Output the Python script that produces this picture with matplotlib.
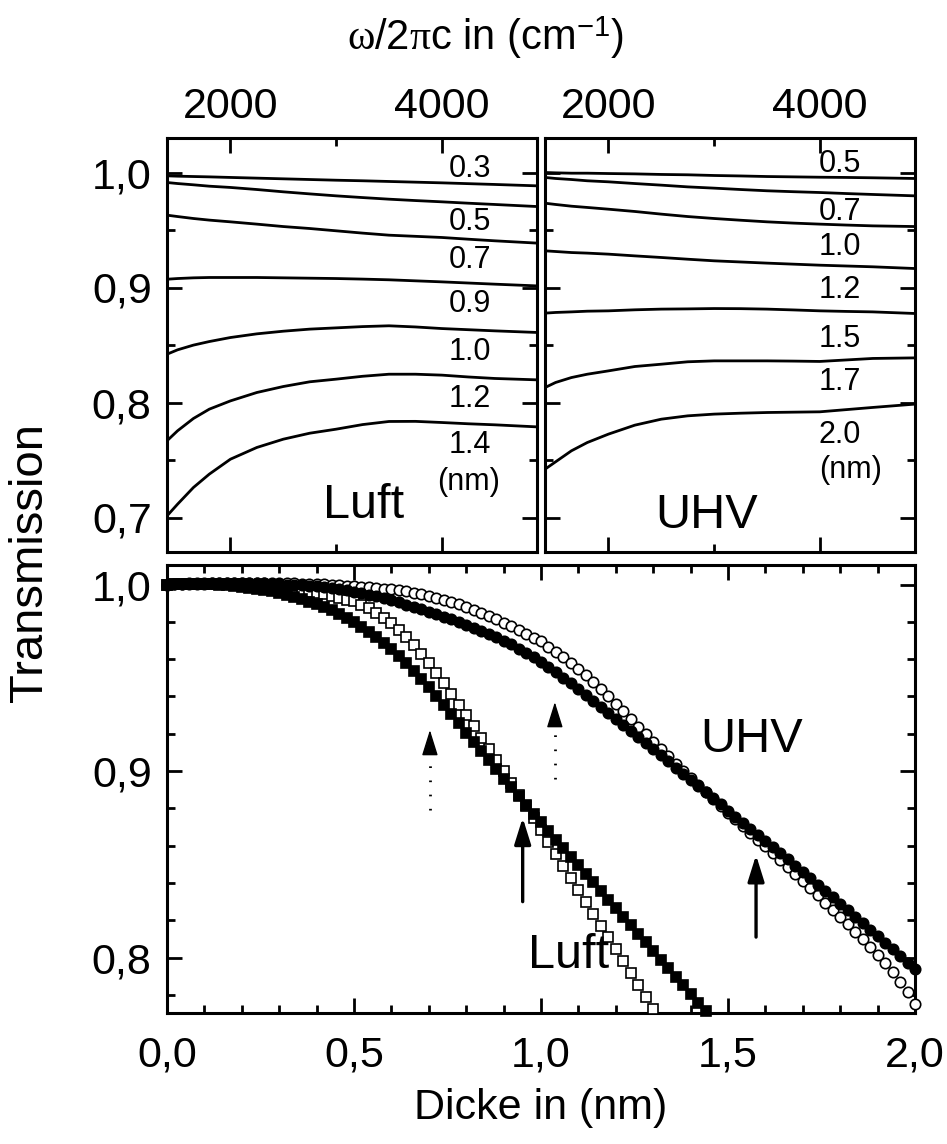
import numpy as np
import matplotlib
matplotlib.use('Agg')
import matplotlib.pyplot as plt
from matplotlib.ticker import FuncFormatter

plt.rcParams['font.family'] = ['Liberation Sans', 'DejaVu Sans']
plt.rcParams['mathtext.fontset'] = 'custom'
plt.rcParams['mathtext.rm'] = 'Liberation Sans'
plt.rcParams['mathtext.it'] = 'Liberation Serif'

# ---- top panels: transmission spectra, wavenumber in cm^-1 ----
wn = [1400, 1500, 1650, 1800, 2000, 2250, 2500, 2750, 3000, 3250, 3500, 3750, 4000, 4250, 4500, 4900]

luft_labels = ['0.3', '0.5', '0.7', '0.9', '1.0', '1.2', '1.4']
luft_spectra = [
    [.9971, .9968, .9965, .9962, .9957, .9951, .9945, .9939, .9933, .9928, .9922, .9916, .9910, .9903, .9896, .9884],
    [.9913, .9904, .9893, .9881, .9870, .9852, .9832, .9814, .9797, .9782, .9768, .9756, .9745, .9733, .9722, .9704],
    [.9629, .9617, .9600, .9586, .9571, .9551, .9530, .9513, .9493, .9473, .9455, .9445, .9435, .9420, .9406, .9386],
    [.9072, .9078, .9084, .9087, .9087, .9087, .9084, .9081, .9078, .9073, .9067, .9058, .9049, .9039, .9029, .9014],
    [.8420, .8458, .8499, .8530, .8565, .8597, .8620, .8638, .8649, .8660, .8667, .8657, .8643, .8633, .8623, .8609],
    [.7667, .7754, .7861, .7942, .8014, .8087, .8139, .8180, .8203, .8228, .8246, .8246, .8238, .8222, .8209, .8197],
    [.7014, .7116, .7261, .7377, .7507, .7609, .7681, .7733, .7768, .7808, .7835, .7836, .7826, .7815, .7806, .7788],
]

uhv_labels = ['0.5', '0.7', '1.0', '1.2', '1.5', '1.7', '2.0']
uhv_spectra = [
    [1.000, .9997, .9994, .9994, .9991, .9988, .9983, .9980, .9974, .9970, .9965, .9962, .9959, .9957, .9954, .9948],
    [.9957, .9948, .9939, .9928, .9919, .9904, .9890, .9875, .9864, .9852, .9841, .9833, .9826, .9817, .9809, .9797],
    [.9733, .9722, .9707, .9696, .9681, .9661, .9638, .9617, .9600, .9585, .9571, .9560, .9551, .9543, .9536, .9530],
    [.9319, .9313, .9304, .9299, .9290, .9275, .9261, .9246, .9232, .9222, .9212, .9203, .9194, .9187, .9180, .9165],
    [.8777, .8783, .8788, .8794, .8797, .8806, .8812, .8814, .8817, .8816, .8812, .8805, .8797, .8792, .8788, .8774],
    [.8130, .8174, .8217, .8246, .8275, .8313, .8333, .8354, .8362, .8362, .8362, .8360, .8357, .8370, .8383, .8388],
    [.7420, .7484, .7580, .7652, .7725, .7803, .7855, .7884, .7899, .7907, .7913, .7916, .7919, .7938, .7957, .7986],
]

# ---- bottom panel: transmission vs. film thickness (nm) ----
dicke = [0.00, 0.02, 0.04, 0.06, 0.08, 0.10, 0.12, 0.14, 0.16, 0.18,
         0.20, 0.22, 0.24, 0.26, 0.28, 0.30, 0.32, 0.34, 0.36, 0.38,
         0.40, 0.42, 0.44, 0.46, 0.48, 0.50, 0.52, 0.54, 0.56, 0.58,
         0.60, 0.62, 0.64, 0.66, 0.68, 0.70, 0.72, 0.74, 0.76, 0.78,
         0.80, 0.82, 0.84, 0.86, 0.88, 0.90, 0.92, 0.94, 0.96, 0.98,
         1.00, 1.02, 1.04, 1.06, 1.08, 1.10, 1.12, 1.14, 1.16, 1.18,
         1.20, 1.22, 1.24, 1.26, 1.28, 1.30, 1.32, 1.34, 1.36, 1.38,
         1.40, 1.42, 1.44, 1.46, 1.48, 1.50, 1.52, 1.54, 1.56, 1.58,
         1.60, 1.62, 1.64, 1.66, 1.68, 1.70, 1.72, 1.74, 1.76, 1.78,
         1.80, 1.82, 1.84, 1.86, 1.88, 1.90, 1.92, 1.94, 1.96, 1.98, 2.00]

uhv_filled = [1.0000, 1.0002, 1.0004, 1.0006, 1.0008, 1.0009, 1.0010, 1.0011, 1.0011, 1.0011,
              1.0010, 1.0009, 1.0008, 1.0006, 1.0004, 1.0002, 1.0000, .9998, .9996, .9993,
              .9990, .9985, .9980, .9975, .9969, .9962, .9954, .9946, .9937, .9926,
              .9915, .9904, .9892, .9880, .9868, .9855, .9841, .9827, .9813, .9799,
              .9785, .9768, .9751, .9734, .9717, .9700, .9679, .9657, .9634, .9610,
              .9585, .9557, .9529, .9500, .9470, .9440, .9408, .9376, .9344, .9312,
              .9280, .9247, .9215, .9182, .9150, .9117, .9085, .9052, .9019, .8986,
              .8953, .8920, .8887, .8854, .8821, .8788, .8756, .8724, .8692, .8659,
              .8626, .8593, .8560, .8527, .8493, .8459, .8425, .8391, .8357, .8323,
              .8289, .8254, .8220, .8185, .8150, .8115, .8080, .8045, .8009, .7973, .7937]

uhv_open = [1.0000, 1.0001, 1.0002, 1.0003, 1.0004, 1.0005, 1.0006, 1.0007, 1.0007, 1.0008,
            1.0008, 1.0008, 1.0008, 1.0008, 1.0008, 1.0007, 1.0007, 1.0006, 1.0005, 1.0004,
            1.0003, 1.0001, .9999, .9997, .9995, .9992, .9989, .9986, .9983, .9979,
            .9975, .9970, .9964, .9957, .9949, .9940, .9930, .9919, .9907, .9894,
            .9880, .9865, .9849, .9832, .9814, .9795, .9776, .9756, .9735, .9715,
            .9695, .9668, .9640, .9611, .9581, .9550, .9514, .9477, .9439, .9400,
            .9360, .9320, .9280, .9239, .9198, .9157, .9118, .9079, .9040, .9002,
            .8963, .8926, .8889, .8852, .8815, .8778, .8742, .8705, .8669, .8632,
            .8596, .8559, .8522, .8484, .8447, .8409, .8371, .8333, .8295, .8257,
            .8219, .8179, .8139, .8098, .8057, .8015, .7970, .7922, .7871, .7816, .7750]

luft_filled = [1.0000, 1.0001, 1.0002, 1.0003, 1.0004, 1.0004, 1.0003, 1.0000, .9997, .9993,
               .9988, .9983, .9977, .9970, .9963, .9955, .9945, .9934, .9922, .9909,
               .9895, .9879, .9862, .9843, .9822, .9800, .9775, .9748, .9719, .9688,
               .9655, .9618, .9579, .9538, .9495, .9450, .9403, .9355, .9306, .9256,
               .9205, .9156, .9107, .9058, .9009, .8960, .8913, .8866, .8819, .8772,
               .8725, .8679, .8633, .8587, .8541, .8495, .8449, .8403, .8357, .8311,
               .8265, .8219, .8173, .8127, .8081, .8035, .7989, .7943, .7897, .7851,
               .7805, .7759, .7713]

luft_open = [1.0000, 1.0001, 1.0002, 1.0003, 1.0004, 1.0005, 1.0005, 1.0005, 1.0004, 1.0003,
             1.0001, .9999, .9996, .9993, .9989, .9985, .9980, .9975, .9969, .9962,
             .9955, .9947, .9938, .9929, .9920, .9910, .9893, .9873, .9850, .9823,
             .9792, .9757, .9718, .9675, .9628, .9578, .9525, .9470, .9414, .9357,
             .9299, .9240, .9180, .9120, .9059, .8998, .8936, .8874, .8811, .8748,
             .8684, .8620, .8556, .8492, .8428, .8364, .8300, .8236, .8172, .8108,
             .8044, .7980, .7916, .7852, .7788, .7724]


def comma(v, pos):
    return f'{v:.1f}'.replace('.', ',')


fig = plt.figure(figsize=(9.47, 11.44), dpi=100)
W, H = 947, 1144
ax_l = fig.add_axes([167 / W, 1 - 552 / H, 370 / W, 414 / H])
ax_r = fig.add_axes([545 / W, 1 - 552 / H, 370 / W, 414 / H])
ax_b = fig.add_axes([167 / W, 1 - 1013 / H, 748 / W, 448 / H])

for ax in (ax_l, ax_r, ax_b):
    for s in ax.spines.values():
        s.set_linewidth(2.2)
    ax.tick_params(which='both', direction='in', top=True, right=True, width=2, labelsize=31)
    ax.tick_params(which='major', length=11)
    ax.tick_params(which='minor', length=6)
    ax.yaxis.set_major_formatter(FuncFormatter(comma))
    ax.tick_params(axis='y', pad=11)

for ax, spectra in ((ax_l, luft_spectra), (ax_r, uhv_spectra)):
    for y in spectra:
        ax.plot(wn, y, color='k', lw=2)
    ax.set_xlim(1400, 4900)
    ax.set_ylim(0.67, 1.03)
    ax.set_xticks([2000, 4000])
    ax.set_xticks([3000], minor=True)
    ax.set_yticks([0.7, 0.8, 0.9, 1.0])
    ax.set_yticks([0.75, 0.85, 0.95], minor=True)
    ax.tick_params(axis='x', labeltop=True, labelbottom=False, pad=8)
ax_r.tick_params(axis='y', labelleft=False)

# curve labels
lab_l = [0.9066, 0.7778, 0.6852, 0.5805, 0.4638, 0.3510, 0.2384]
for t, yy in zip(luft_labels, lab_l):
    ax_l.text(0.819, yy, t, transform=ax_l.transAxes, fontsize=22, ha='center', va='baseline')
ax_l.text(0.816, 0.150, '(nm)', transform=ax_l.transAxes, fontsize=22, ha='center', va='baseline')
ax_l.text(0.530, 0.081, 'Luft', transform=ax_l.transAxes, fontsize=35, ha='center', va='baseline')

lab_r = [0.9186, 0.8019, 0.7174, 0.6127, 0.4960, 0.3913, 0.2625]
for t, yy in zip(uhv_labels, lab_r):
    ax_r.text(0.797, yy, t, transform=ax_r.transAxes, fontsize=22, ha='center', va='baseline')
ax_r.text(0.827, 0.178, '(nm)', transform=ax_r.transAxes, fontsize=22, ha='center', va='baseline')
ax_r.text(0.438, 0.057, 'UHV', transform=ax_r.transAxes, fontsize=35, ha='center', va='baseline')

# bottom panel
ax_b.plot(dicke[:len(luft_open)], luft_open, ls='none', marker='s', ms=7, mfc='white',
          mec='k', mew=1.2, clip_on=False, zorder=3)
ax_b.plot(dicke[:len(luft_filled)], luft_filled, ls='none', marker='s', ms=7, mfc='k',
          mec='k', mew=1.2, clip_on=False, zorder=3)
ax_b.plot(dicke, uhv_open, ls='none', marker='o', ms=7.5, mfc='white',
          mec='k', mew=1.2, clip_on=False, zorder=3)
ax_b.plot(dicke, uhv_filled, ls='none', marker='o', ms=7.5, mfc='k',
          mec='k', mew=1.2, clip_on=False, zorder=3)
ax_b.set_xlim(0, 2.0)
ax_b.set_ylim(0.7703, 1.0105)
ax_b.set_xticks([0, 0.5, 1.0, 1.5, 2.0])
ax_b.set_xticks(np.arange(0.1, 2.0, 0.1), minor=True)
ax_b.set_yticks([0.8, 0.9, 1.0])
ax_b.set_yticks(np.arange(0.78, 1.01, 0.02), minor=True)
ax_b.xaxis.set_major_formatter(FuncFormatter(comma))
ax_b.tick_params(axis='x', pad=16)
ax_b.set_xlabel('Dicke in (nm)', fontsize=31, labelpad=9)

ax_b.text(0.781, 0.583, 'UHV', transform=ax_b.transAxes, fontsize=35, ha='center', va='baseline')
ax_b.text(0.537, 0.100, 'Luft', transform=ax_b.transAxes, fontsize=35, ha='center', va='baseline')

head = '-|>,head_length=0.8,head_width=0.25'
solid = dict(arrowstyle=head, lw=2.4, color='k', mutation_scale=20, shrinkA=0, shrinkB=0)
ax_b.annotate('', xy=(0.951, 0.875), xytext=(0.951, 0.830), arrowprops=solid)
ax_b.annotate('', xy=(1.575, 0.855), xytext=(1.575, 0.811), arrowprops=solid)
# dotted arrows: dotted shaft plus a solid head
for xa, y0, y1 in ((0.703, 0.879, 0.922), (1.037, 0.896, 0.937)):
    ax_b.plot([xa, xa], [y0, y1 - 0.010], color='k', lw=2, ls=(0, (0.6, 4.5)))
    ax_b.annotate('', xy=(xa, y1), xytext=(xa, y1 - 0.011),
                  arrowprops=dict(arrowstyle=head, lw=1, color='k', mutation_scale=20,
                                  shrinkA=0, shrinkB=0))

fig.text(0.032, 1 - 562 / H, 'Transmission', rotation=90, fontsize=34, ha='center', va='center')
fig.text(485 / W, 1 - 50 / H, r'$\omega$/2$\pi$c in (cm$^{\mathrm{-1}}$)', fontsize=30,
         ha='center', va='baseline')

fig.savefig('out.png', dpi=100)
